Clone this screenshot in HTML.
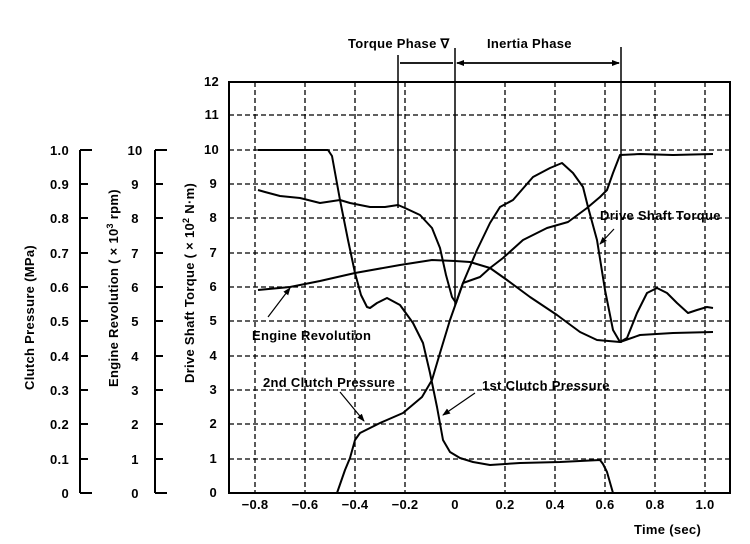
<!DOCTYPE html>
<html><head><meta charset="utf-8"><style>
html,body{margin:0;padding:0;background:#fff;}
svg{display:block;}
text{font-family:"Liberation Sans",sans-serif;font-size:13px;font-weight:bold;letter-spacing:0.3px;fill:#000;}
</style></head><body>
<svg width="750" height="544" viewBox="0 0 750 544" xmlns="http://www.w3.org/2000/svg">
<defs>
<marker id="ah" markerWidth="8" markerHeight="8" refX="7" refY="4" orient="auto" markerUnits="userSpaceOnUse"><path d="M0,1 L8,4 L0,7 Z" fill="#000"/></marker>
</defs>
<g stroke="#000" stroke-width="1.3" stroke-dasharray="5,3" fill="none">
<path d="M229,115H730M229,150H730M229,184H730M229,218H730M229,253H730M229,287H730M229,321H730M229,356H730M229,390H730M229,424H730M229,459H730"/>
<path d="M255,82V493M305,82V493M355,82V493M405,82V493M505,82V493M555,82V493M605,82V493M655,82V493M705,82V493"/>
</g>
<rect x="229" y="82" width="501" height="411" fill="none" stroke="#000" stroke-width="2"/>
<g text-anchor="end">
<text x="217" y="497">0</text><text x="217" y="463">1</text><text x="217" y="428">2</text><text x="217" y="394">3</text><text x="217" y="360">4</text><text x="217" y="325">5</text><text x="217" y="291">6</text><text x="217" y="257">7</text><text x="217" y="222">8</text><text x="217" y="188">9</text><text x="219" y="154">10</text><text x="219" y="119">11</text><text x="219" y="86">12</text>
</g>
<g text-anchor="middle">
<text x="255" y="509">−0.8</text><text x="305" y="509">−0.6</text><text x="355" y="509">−0.4</text><text x="405" y="509">−0.2</text><text x="455" y="509">0</text><text x="505" y="509">0.2</text><text x="555" y="509">0.4</text><text x="605" y="509">0.6</text><text x="655" y="509">0.8</text><text x="705" y="509">1.0</text>
</g>
<text x="634" y="534">Time (sec)</text>
<g stroke="#000" stroke-width="2" fill="none">
<path d="M80,150V493M80,150H92M80,184H88M80,218H88M80,253H88M80,287H88M80,321H88M80,356H88M80,390H88M80,424H88M80,459H88M80,493H92"/>
<path d="M155,150V493M155,150H167M155,184H163M155,218H163M155,253H163M155,287H163M155,321H163M155,356H163M155,390H163M155,424H163M155,459H163M155,493H167"/>
</g>
<g text-anchor="end">
<text x="69" y="155">1.0</text><text x="69" y="189">0.9</text><text x="69" y="223">0.8</text><text x="69" y="258">0.7</text><text x="69" y="292">0.6</text><text x="69" y="326">0.5</text><text x="69" y="361">0.4</text><text x="69" y="395">0.3</text><text x="69" y="429">0.2</text><text x="69" y="464">0.1</text><text x="69" y="498">0</text>
</g>
<g text-anchor="middle">
<text x="135" y="155">10</text><text x="135" y="189">9</text><text x="135" y="223">8</text><text x="135" y="258">7</text><text x="135" y="292">6</text><text x="135" y="326">5</text><text x="135" y="361">4</text><text x="135" y="395">3</text><text x="135" y="429">2</text><text x="135" y="464">1</text><text x="135" y="498">0</text>
</g>
<text text-anchor="start" transform="translate(34,390) rotate(-90)">Clutch Pressure (MPa)</text>
<text text-anchor="start" transform="translate(118,387) rotate(-90)">Engine Revolution ( × 10<tspan font-size="9" dy="-5">3</tspan><tspan dy="5"> rpm)</tspan></text>
<text text-anchor="start" transform="translate(194,383) rotate(-90)">Drive Shaft Torque ( × 10<tspan font-size="9" dy="-5">2</tspan><tspan dy="5"> N·m)</tspan></text>
<g stroke="#000" stroke-width="1.5" fill="none">
<path d="M398,55V208M455,48V305M621,47V343"/>
<path d="M400,63H453M457,63H619" marker-end="url(#ah)" />
<path d="M453,63H400M619,63H457" marker-end="url(#ah)" />
</g>
<text x="348" y="48">Torque Phase ∇</text>
<text x="487" y="48">Inertia Phase</text>
<g stroke="#000" stroke-width="2" fill="none" stroke-linejoin="round">
<polyline points="258,150 328,150 332,156 340,200 348,240 355,273 361,295 367,307 370,308 377,303 387,298 400,305 413,323 423,343 430,373 437,407 443,440 450,452 460,458 473,462 490,465 520,463 560,462 600,460 603,464 607,472 613,493"/>
<polyline points="258,190 265,192 280,196 300,198 320,203 340,200 350,203 360,205 370,207 385,207 398,205 405,208 420,215 432,228 440,248 446,275 452,297 456,303 463,283 480,277 490,268 503,258 523,240 547,228 568,222 587,208 600,197 607,190 613,173 620,155 640,154 673,155 713,154"/>
<polyline points="258,290 290,287 320,281 355,273 400,265 432,260 455,261 470,262 490,268 507,280 530,297 557,315 580,332 597,340 620,342 640,335 673,333 713,332"/>
<polyline points="337,493 345,470 350,458 355,440 360,433 380,423 403,413 422,397 432,380 440,353 450,320 456,303 463,283 477,250 490,223 500,207 513,200 533,177 550,168 562,163 573,173 583,187 588,207 597,240 605,290 613,330 620,342 627,338 637,313 647,293 657,288 667,293 677,303 688,313 697,310 707,307 713,308"/>
</g>
<text x="600" y="220">Drive Shaft Torque</text>
<text x="252" y="340">Engine Revolution</text>
<text x="263" y="387">2nd Clutch Pressure</text>
<text x="482" y="390">1st Clutch Pressure</text>
<g stroke="#000" stroke-width="1.2" fill="none">
<path d="M614,229L600,244" marker-end="url(#ah)"/>
<path d="M268,317L290,288" marker-end="url(#ah)"/>
<path d="M340,392L364,421" marker-end="url(#ah)"/>
<path d="M475,393L443,415" marker-end="url(#ah)"/>
</g>
</svg>
</body></html>
